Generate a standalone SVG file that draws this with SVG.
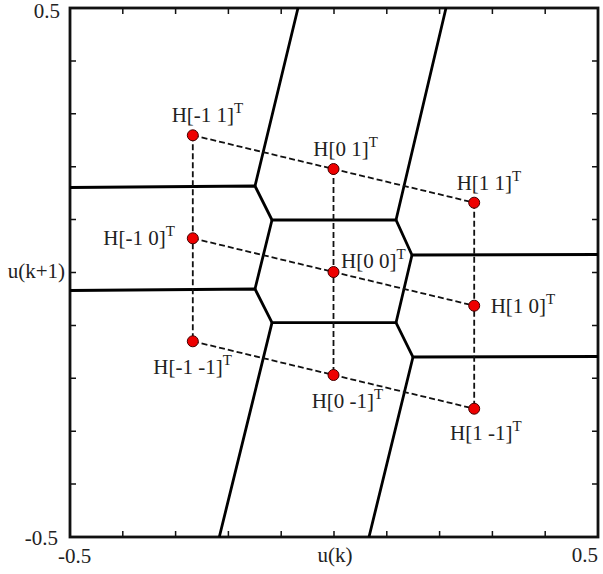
<svg xmlns="http://www.w3.org/2000/svg" width="603" height="574" viewBox="0 0 603 574">
<style>
text{font-family:"Liberation Serif","Times New Roman",serif;font-size:21px;fill:#222}
.sup{font-size:15px}
.frame{fill:none;stroke:#111;stroke-width:2.8}
.tick{stroke:#111;stroke-width:1.5}
.vor{fill:none;stroke:#000;stroke-width:2.8;stroke-linejoin:miter}
.dash{fill:none;stroke:#111;stroke-width:1.8;stroke-dasharray:6 3}
.pt{fill:#ee0000;stroke:#400;stroke-width:1}
</style>
<rect width="603" height="574" fill="#fff"/>
<g id="axes">
<rect class="frame" x="70" y="8" width="528" height="529"/>
<path class="tick" d="M122.8,8v6M175.6,8v6M228.4,8v6M281.2,8v6M334,8v6M386.8,8v6M439.6,8v6M492.4,8v6M545.2,8v6
M122.8,537v-6M175.6,537v-6M228.4,537v-6M281.2,537v-6M334,537v-6M386.8,537v-6M439.6,537v-6M492.4,537v-6M545.2,537v-6
M70,60.9h6M70,113.8h6M70,166.7h6M70,219.6h6M70,272.5h6M70,325.4h6M70,378.3h6M70,431.2h6M70,484.1h6
M598,60.9h-6M598,113.8h-6M598,166.7h-6M598,219.6h-6M598,272.5h-6M598,325.4h-6M598,378.3h-6M598,431.2h-6M598,484.1h-6"/>
<text x="60" y="18" text-anchor="end">0.5</text>
<text x="65" y="278" text-anchor="end">u(k+1)</text>
<text x="58" y="545" text-anchor="end">-0.5</text>
<text x="58" y="563">-0.5</text>
<text x="335" y="562" text-anchor="middle">u(k)</text>
<text x="598" y="562" text-anchor="end">0.5</text>
</g>
<g id="regions">
<path class="vor" d="M70,187.5L255,186L272,220L396,220L412,255L598,254.5"/>
<path class="vor" d="M70,290.5L255,289L272,322.7L396,322.7L413,357L598,356.5"/>
<path class="vor" d="M298,8L255,186M272,220L255,289M272,322.7L219.3,537"/>
<path class="vor" d="M446,8L396,220M412,255L396,322.7M413,357L369,537"/>
</g>
<g id="connectors">
<path class="dash" d="M192.8,135.3L474.2,202.7M192.8,238.3L474.2,305.7M192.8,341.3L474.2,408.7"/>
<path class="dash" d="M192.8,135.3V341.3M333.5,169V375M474.2,202.7V408.7"/>
</g>
<g id="p_m1_1"><circle class="pt" cx="192.8" cy="135.3" r="5.5"/><text x="171.7" y="122">H[-1 1]<tspan class="sup" dy="-9">T</tspan></text></g>
<g id="p_m1_0"><circle class="pt" cx="192.8" cy="238.3" r="5.5"/><text x="103.3" y="245">H[-1 0]<tspan class="sup" dy="-9">T</tspan></text></g>
<g id="p_m1_m1"><circle class="pt" cx="192.8" cy="341.3" r="5.5"/><text x="153.3" y="374">H[-1 -1]<tspan class="sup" dy="-9">T</tspan></text></g>
<g id="p_0_1"><circle class="pt" cx="333.5" cy="169" r="5.5"/><text x="313.3" y="156">H[0 1]<tspan class="sup" dy="-9">T</tspan></text></g>
<g id="p_0_0"><circle class="pt" cx="333.5" cy="272" r="5.5"/><text x="341" y="268.3">H[0 0]<tspan class="sup" dy="-9">T</tspan></text></g>
<g id="p_0_m1"><circle class="pt" cx="333.5" cy="375" r="5.5"/><text x="311.7" y="408">H[0 -1]<tspan class="sup" dy="-9">T</tspan></text></g>
<g id="p_1_1"><circle class="pt" cx="474.2" cy="202.7" r="5.5"/><text x="456.7" y="190">H[1 1]<tspan class="sup" dy="-9">T</tspan></text></g>
<g id="p_1_0"><circle class="pt" cx="474.2" cy="305.7" r="5.5"/><text x="490.7" y="313.3">H[1 0]<tspan class="sup" dy="-9">T</tspan></text></g>
<g id="p_1_m1"><circle class="pt" cx="474.2" cy="408.7" r="5.5"/><text x="450" y="440">H[1 -1]<tspan class="sup" dy="-9">T</tspan></text></g>
</svg>
